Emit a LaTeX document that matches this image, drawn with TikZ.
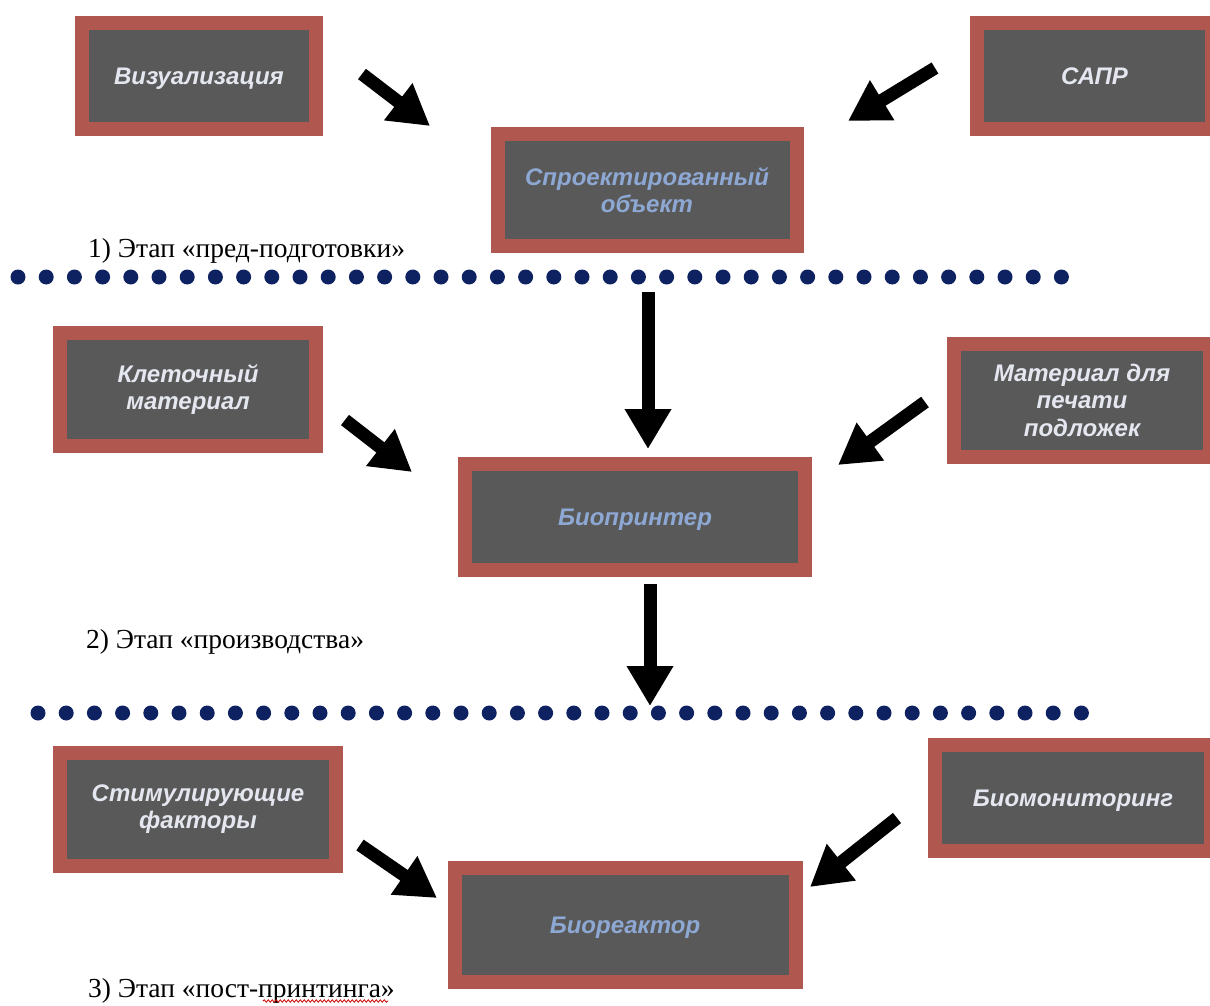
\documentclass[tikz,border=0pt]{standalone}
\usepackage{fontspec}
\setmainfont{Liberation Serif}
\newfontfamily\boxfont{Liberation Sans}
\usetikzlibrary{arrows.meta,decorations.pathmorphing}
\definecolor{bred}{HTML}{B0574F}
\definecolor{bgrey}{HTML}{595959}
\definecolor{tside}{HTML}{E4E7EF}
\definecolor{tcent}{HTML}{8EA8D4}
\definecolor{navy}{HTML}{0E2262}
\tikzset{
  bx/.style={draw=bred, line width=14pt, fill=bgrey, inner sep=0pt, align=center,
    font=\boxfont\bfseries\itshape\fontsize{24}{27.5}\selectfont, text=tside},
  cbx/.style={bx, text=tcent},
  oneline/.style={text depth=0pt},
  blockarrow/.style={line width=13pt, black, -{Triangle[length=40pt,width=44pt]}},
  stage/.style={anchor=base west, inner sep=0pt, font=\fontsize{27.5}{30}\selectfont}
}
\begin{document}
\begin{tikzpicture}[x=1pt,y=-1pt]
\useasboundingbox (0,0) rectangle (1210,1005);
% boxes (border centre lines)
\node[bx, oneline, minimum width=234pt, minimum height=106pt] (viz) at (199,76) {Визуализация};
\node[bx, oneline, minimum width=235pt, minimum height=106pt] (sapr) at (1094.5,76) {САПР};
\node[cbx, minimum width=299pt, minimum height=112pt] (proj) at (647,190) {Спроектированный\\объект};
\node[bx, minimum width=256pt, minimum height=113pt] (cell) at (188,389.5) {Клеточный\\материал};
\node[bx, minimum width=255.5pt, minimum height=113pt] (mat) at (1082,400) {Материал для\\печати\\подложек};
\node[cbx, oneline, minimum width=340pt, minimum height=106pt] (bio) at (635,517) {Биопринтер};
\node[bx, minimum width=276pt, minimum height=113pt] (stim) at (198,809) {Стимулирующие\\факторы};
\node[bx, oneline, minimum width=276.5pt, minimum height=106pt] (mon) at (1073,798) {Биомониторинг};
\node[cbx, oneline, minimum width=341pt, minimum height=114pt] (reac) at (625,925) {Биореактор};
% stage labels
\node[stage] (s1) at (88,257) {1) Этап «пред-подготовки»};
\node[stage] (s2) at (86,648) {2) Этап «производства»};
\node[stage] (s3) at (88,997) {3) Этап «пост-принтинга»};
\draw[red!80!black, line width=0.8pt, decorate, decoration={snake, amplitude=1.2pt, segment length=4pt}]
  (263,1001) -- (388,1001);
% dotted separators
\foreach \i in {0,...,37} {
  \fill[navy] (18+28.2*\i,277) circle (7.5);
  \fill[navy] (38+28.2*\i,713) circle (7.5);
}
% arrow anchors
\coordinate (a1s) at (362,74); \coordinate (a1e) at (430,126);
\coordinate (a2s) at (935,68); \coordinate (a2e) at (848,121);
\coordinate (a3s) at (648,292); \coordinate (a3e) at (648,449);
\coordinate (a4s) at (345,420); \coordinate (a4e) at (412,472);
\coordinate (a5s) at (925,402); \coordinate (a5e) at (838,465);
\coordinate (a6s) at (650,584); \coordinate (a6e) at (650,706);
\coordinate (a7s) at (360,845); \coordinate (a7e) at (437,898);
\coordinate (a8s) at (897,818); \coordinate (a8e) at (810,887);
\foreach \a in {1,...,8} \draw[blockarrow] (a\a s) -- (a\a e);
\end{tikzpicture}
\end{document}
